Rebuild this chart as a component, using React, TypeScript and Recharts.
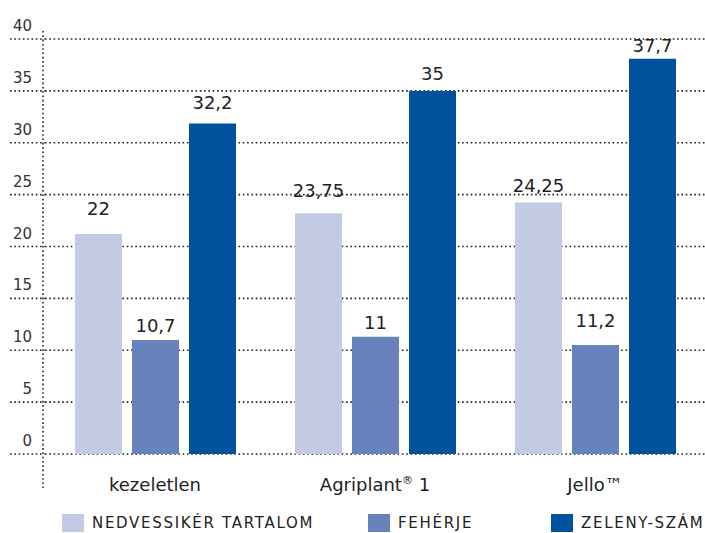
import React from 'react';
import { BarChart, Bar, XAxis, YAxis, CartesianGrid, LabelList } from 'recharts';

const categories = ['kezeletlen', 'Agriplant® 1', 'Jello™'];
const seriesNames = ['NEDVESSIKÉR TARTALOM', 'FEHÉRJE', 'ZELENY-SZÁM'];

// bar heights as drawn
const nedvesseg = [21.2, 23.2, 24.25];
const feherje = [11.0, 11.3, 10.5];
const zeleny = [31.85, 35, 38.1];

// printed value labels
const nedvessegLabels = ['22', '23,75', '24,25'];
const feherjeLabels = ['10,7', '11', '11,2'];
const zelenyLabels = ['32,2', '35', '37,7'];

const yTicks = [0, 5, 10, 15, 20, 25, 30, 35, 40];

const COLORS = ['#c3cae4', '#6883bb', '#00529c'];
const FONT = '"DejaVu Sans", sans-serif';

const data = categories.map((name, i) => ({
    name,
    nedvesseg: nedvesseg[i],
    feherje: feherje[i],
    zeleny: zeleny[i],
    nedvessegLabel: nedvessegLabels[i],
    feherjeLabel: feherjeLabels[i],
    zelenyLabel: zelenyLabels[i],
}));

const DOTS = { stroke: '#222', strokeWidth: 1.6, strokeDasharray: '1.6 2.7' };

// label sits above the height of its printed value, not the drawn bar
const makeLabel = (values: number[]) => (props: any) => {
    const { x, y, width, height, value, index } = props;
    const perUnit = height / values[index];
    const labelNum = parseFloat(String(value).replace(',', '.'));
    const baseY = y + height - labelNum * perUnit - 10.5;
    return (
        <text x={x + width / 2} y={baseY} textAnchor="middle" fontSize={18} fill="#222" fontFamily={FONT}>
            {value}
        </text>
    );
};

const YTick = (props: any) => {
    const { y, payload } = props;
    return (
        <g>
            <line x1={10} x2={45} y1={y} y2={y} {...DOTS} />
            <text x={32} y={y - 8} textAnchor="end" fontSize={15} fill="#333" fontFamily={FONT}>
                {payload.value}
            </text>
        </g>
    );
};

const XTick = (props: any) => {
    const { x, payload } = props;
    const v: string = payload.value;
    if (v.includes('®')) {
        const [a, b] = v.split('®');
        return (
            <text x={x} y={491} textAnchor="middle" fontSize={18} fill="#222" fontFamily={FONT}>
                {a}
                <tspan fontSize={11} dy={-7}>®</tspan>
                <tspan dy={7}>{b}</tspan>
            </text>
        );
    }
    return (
        <text x={x} y={491} textAnchor="middle" fontSize={18} fill="#222" fontFamily={FONT}>
            {v}
        </text>
    );
};

const legendPos = [62, 368, 551];

const App = () => {
    return (
        <div style={{ position: 'absolute', left: 0, top: 0, width: 705, height: 533, background: '#fff' }}>
            <BarChart
                width={705}
                height={533}
                data={data}
                margin={{ top: 39, right: 0, left: 0, bottom: 49 }}
                barSize={47}
                barGap={10}
            >
                <CartesianGrid vertical={false} {...DOTS} />
                <XAxis dataKey="name" height={30} axisLine={false} tickLine={false} tick={<XTick />} interval={0} />
                <YAxis
                    width={45}
                    domain={[0, 40]}
                    ticks={yTicks}
                    axisLine={false}
                    tickLine={false}
                    tick={<YTick />}
                />
                <Bar dataKey="nedvesseg" name={seriesNames[0]} fill={COLORS[0]} isAnimationActive={false}>
                    <LabelList dataKey="nedvessegLabel" content={makeLabel(nedvesseg)} />
                </Bar>
                <Bar dataKey="feherje" name={seriesNames[1]} fill={COLORS[1]} isAnimationActive={false}>
                    <LabelList dataKey="feherjeLabel" content={makeLabel(feherje)} />
                </Bar>
                <Bar dataKey="zeleny" name={seriesNames[2]} fill={COLORS[2]} isAnimationActive={false}>
                    <LabelList dataKey="zelenyLabel" content={makeLabel(zeleny)} />
                </Bar>
            </BarChart>
            <svg width={705} height={533} style={{ position: 'absolute', left: 0, top: 0, pointerEvents: 'none' }}>
                <line x1={43} x2={43} y1={31} y2={488} {...DOTS} />
            </svg>
            {seriesNames.map((s, i) => (
                <div key={s} style={{ position: 'absolute', left: legendPos[i], top: 514, height: 18, display: 'flex', alignItems: 'center' }}>
                    <div style={{ width: 22, height: 18, backgroundColor: COLORS[i] }} />
                    <span style={{ marginLeft: 8, fontSize: 15, letterSpacing: '1.7px', color: '#222', fontFamily: FONT, whiteSpace: 'nowrap' }}>{s}</span>
                </div>
            ))}
        </div>
    );
};

export default App;
